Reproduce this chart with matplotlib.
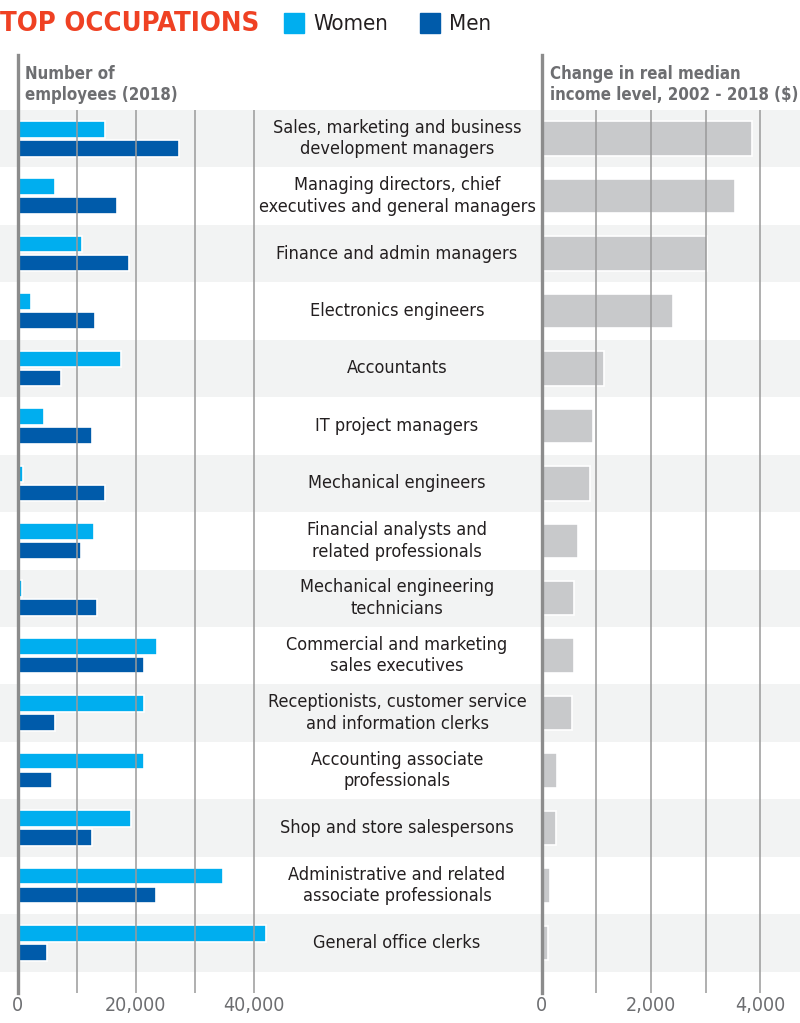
import matplotlib.pyplot as plt
from matplotlib import font_manager as fm

# values
occupations = [
    "Sales, marketing and business\ndevelopment managers",
    "Managing directors, chief\nexecutives and general managers",
    "Finance and admin managers",
    "Electronics engineers",
    "Accountants",
    "IT project managers",
    "Mechanical engineers",
    "Financial analysts and\nrelated professionals",
    "Mechanical engineering\ntechnicians",
    "Commercial and marketing\nsales executives",
    "Receptionists, customer service\nand information clerks",
    "Accounting associate\nprofessionals",
    "Shop and store salespersons",
    "Administrative and related\nassociate professionals",
    "General office clerks",
]
women = [14800, 6300, 10900, 2200, 17400, 4400, 1000, 13000, 700, 23600, 21400, 21400, 19200, 34700, 42000]
men = [27300, 16800, 18800, 13100, 7300, 12500, 14700, 10700, 13400, 21300, 6400, 5800, 12500, 23400, 4900]
income_change = [3850, 3540, 3020, 2400, 1140, 940, 880, 660, 600, 585, 550, 275, 255, 150, 115]

left_grid = [10000, 20000, 30000, 40000]
left_ticks = [0, 20000, 40000]
right_grid = [1000, 2000, 3000, 4000]
right_ticks = [0, 2000, 4000]

WOMEN_C = "#00aeef"
MEN_C = "#005baa"
GRAY_BAR = "#c8c9cb"
BAND = "#f2f3f3"
GRID = "#9a9a9a"
HEAD = "#6d6e71"
TXT = "#231f20"
RED = "#ef4123"

# pick a condensed sans face if one is installed, else Roboto
family, stretch = "Roboto", "normal"
for f in fm.fontManager.ttflist:
    if "Mono" in f.name or "Serif" in f.name:
        continue
    if "Narrow" in f.name or "Condensed" in f.name or f.stretch in ("condensed", "semi-condensed"):
        family, stretch = f.name, f.stretch
        break
plt.rcParams["font.family"] = [family, "DejaVu Sans"]
plt.rcParams["font.stretch"] = stretch

W, H = 800, 1023
fig = plt.figure(figsize=(W / 100, H / 100), dpi=100)
renderer = fig.canvas.get_renderer()


def fit_size(s, target_px, weight="normal"):
    # font size that makes string s about target_px wide
    t = fig.text(0, 0, s, fontsize=10, fontweight=weight)
    w = t.get_window_extent(renderer).width
    t.remove()
    return 10 * target_px / w


label_fs = fit_size("Sales, marketing and business", 248)
title_fs = fit_size("TOP OCCUPATIONS", 258, "bold")
tick_fs = fit_size("20,000", 62)
legend_fs = fit_size("Women", 75)
head_fs = fit_size("employees (2018)", 152, "bold")

n = len(occupations)
top_px, rows_bottom_px, axis_bottom_px = 110, 971.6, 993
row_h = (rows_bottom_px - top_px) / n
ylim = (14.5 + (axis_bottom_px - rows_bottom_px) / row_h, -0.5)


def rect(x0, x1):
    return [x0 / W, 1 - axis_bottom_px / H, (x1 - x0) / W, (axis_bottom_px - top_px) / H]


# background stripes across the whole width
bg = fig.add_axes(rect(0, W))
bg.set_ylim(*ylim)
bg.set_xlim(0, 1)
for i in range(0, n, 2):
    bg.axhspan(i - 0.5, i + 0.5, color=BAND, lw=0)
bg.axis("off")

ypos = list(range(n))
zero_extend = (axis_bottom_px - 55) / (axis_bottom_px - top_px)

# left panel: employees
axl = fig.add_axes(rect(0, 272))
axl.patch.set_alpha(0)
axl.set_xlim((0 - 17.5) / 0.00592, (272 - 17.5) / 0.00592)
axl.set_ylim(*ylim)
axl.barh([y - 0.165 for y in ypos], women, height=0.29, color=WOMEN_C,
         edgecolor="white", lw=1.2, zorder=2)
axl.barh([y + 0.165 for y in ypos], men, height=0.29, color=MEN_C,
         edgecolor="white", lw=1.2, zorder=2)
for g in left_grid:
    axl.axvline(g, color=GRID, lw=1.1, zorder=3)
axl.axvline(0, ymin=0, ymax=zero_extend, color="#8c8c8c", lw=2.4, zorder=4, clip_on=False)
axl.set_xticks(left_ticks, [f"{t:,}" for t in left_ticks])

# right panel: income change
axr = fig.add_axes(rect(530, 800))
axr.patch.set_alpha(0)
axr.set_xlim((530 - 541.7) / 0.05465, (800 - 541.7) / 0.05465)
axr.set_ylim(*ylim)
axr.barh(ypos, income_change, height=0.6, color=GRAY_BAR,
         edgecolor="white", lw=1.2, zorder=2)
for g in right_grid:
    axr.axvline(g, color=GRID, lw=1.1, zorder=3)
axr.axvline(0, ymin=0, ymax=zero_extend, color="#8c8c8c", lw=2.4, zorder=4, clip_on=False)
axr.set_xticks(right_ticks, [f"{t:,}" for t in right_ticks])

for ax in (axl, axr):
    ax.set_yticks([])
    for s in ax.spines.values():
        s.set_visible(False)
    ax.tick_params(axis="x", length=0, pad=2, labelsize=tick_fs, labelcolor=HEAD)

# occupation labels in the middle column
for y, name in zip(ypos, occupations):
    bg.text(397 / W, y, name, ha="center", va="center", fontsize=label_fs,
            color=TXT, linespacing=1.25, transform=bg.get_yaxis_transform())

# title and legend
fig.text(0, 1 - 24 / H, "TOP OCCUPATIONS", fontsize=title_fs, fontweight="bold",
         color=RED, va="center", ha="left")
for x0, col, lab in [(284, WOMEN_C, "Women"), (420, MEN_C, "Men")]:
    fig.patches.append(plt.Rectangle((x0 / W, 1 - 33 / H), 20 / W, 20 / H,
                                     color=col, transform=fig.transFigure))
    fig.text((x0 + 29) / W, 1 - 24 / H, lab, fontsize=legend_fs, color=TXT,
             va="center", ha="left")

# panel headings
fig.text(25 / W, 1 - 100 / H, "Number of\nemployees (2018)", fontsize=head_fs,
         fontweight="bold", color=HEAD, va="baseline", ha="left", linespacing=1.2)
fig.text(550 / W, 1 - 100 / H, "Change in real median\nincome level, 2002 - 2018 ($)",
         fontsize=head_fs, fontweight="bold", color=HEAD, va="baseline", ha="left",
         linespacing=1.2)

fig.savefig("out.png", dpi=100)
